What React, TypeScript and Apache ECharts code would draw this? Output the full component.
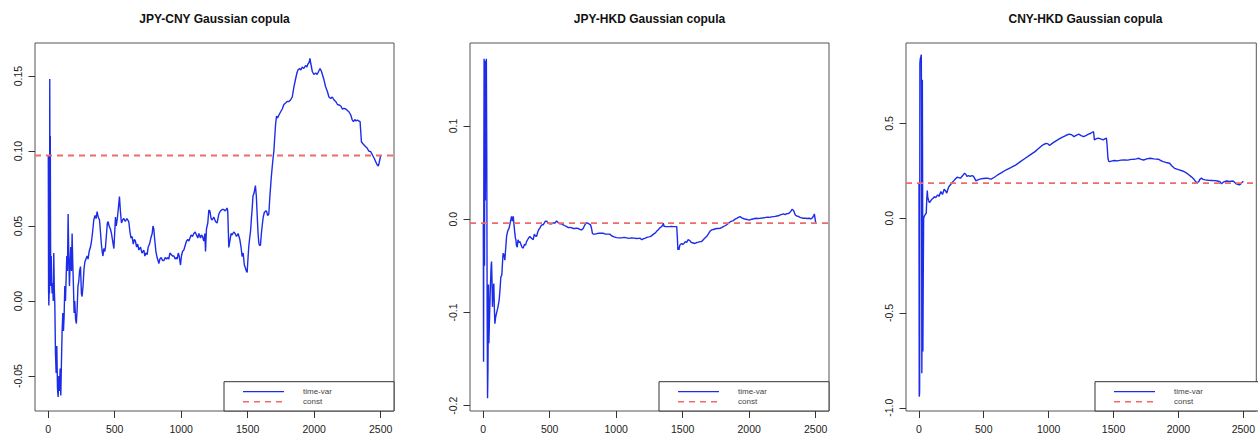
import React, { useEffect, useRef } from "react";
import * as echarts from "echarts";

// ---------- data ----------
const panelTitles = ["JPY-CNY Gaussian copula", "JPY-HKD Gaussian copula", "CNY-HKD Gaussian copula"];
const legendLabels = ["time-var", "const"];
const xTicks = [0, 500, 1000, 1500, 2000, 2500];
const xExtent = [-99, 2600];

const yTicksJpyCny = [-0.05, 0, 0.05, 0.1, 0.15];
const yTicksJpyHkd = [-0.2, -0.1, 0, 0.1];
const yTicksCnyHkd = [-1, -0.5, 0, 0.5];
const yExtentJpyCny = [-0.0733, 0.172];
const yExtentJpyHkd = [-0.2057, 0.189];
const yExtentCnyHkd = [-1.017, 0.924];
const yDecimals = [2, 1, 1];

const constJpyCny = 0.097;
const constJpyHkd = -0.0043;
const constCnyHkd = 0.185;

const jpyCny: [number, number][] = [
  [1, 0.097], [3, 0.008], [5, -0.003], [8, 0.01], [10, 0.005], [12, 0.148], [14, 0.06], [16, 0.11], [18, 0.04], [20, 0.01],
  [23, 0.03], [26, 0.012], [30, 0.005], [34, 0.012], [38, 0.0], [42, 0.032], [46, 0.008], [50, -0.002], [55, -0.035], [60, -0.048],
  [65, -0.03], [70, -0.058], [75, -0.064], [80, -0.05], [85, -0.06], [90, -0.045], [95, -0.063], [100, -0.04], [105, -0.02], [110, -0.008],
  [115, -0.02], [120, -0.01], [125, 0.01], [130, 0.0], [135, 0.015], [140, 0.03], [145, 0.02], [150, 0.058], [155, 0.03], [160, 0.01],
  [165, 0.025], [170, 0.036], [175, 0.02], [180, 0.045], [185, 0.025], [190, 0.01], [195, -0.008], [200, 0.0], [206, -0.012], [212, -0.015],
  [218, -0.005], [224, 0.01], [230, 0.013], [236, 0.02], [243, 0.023], [250, 0.005], [255, 0.003], [262, 0.01], [270, 0.022], [276, 0.026],
  [284, 0.028], [293, 0.03], [300, 0.028], [308, 0.033], [318, 0.036], [326, 0.04], [334, 0.046], [343, 0.054], [352, 0.057], [360, 0.055],
  [368, 0.0596], [376, 0.056], [386, 0.054], [394, 0.045], [400, 0.038], [406, 0.033], [412, 0.03], [418, 0.035], [425, 0.033], [431, 0.036],
  [438, 0.044], [445, 0.052], [451, 0.053], [458, 0.05], [468, 0.048], [476, 0.045], [485, 0.04], [494, 0.035], [500, 0.045], [506, 0.056],
  [512, 0.05], [520, 0.055], [528, 0.062], [536, 0.0696], [543, 0.06], [551, 0.052], [560, 0.054], [569, 0.055], [580, 0.053], [592, 0.055],
  [606, 0.053], [615, 0.046], [623, 0.042], [631, 0.043], [640, 0.038], [648, 0.041], [656, 0.04], [665, 0.036], [673, 0.038], [682, 0.034],
  [694, 0.036], [705, 0.032], [712, 0.033], [719, 0.034], [727, 0.03], [735, 0.032], [744, 0.031], [752, 0.036], [762, 0.038], [772, 0.042],
  [782, 0.045], [788, 0.05], [794, 0.048], [802, 0.04], [810, 0.033], [819, 0.029], [826, 0.027], [832, 0.025], [840, 0.028], [850, 0.029],
  [860, 0.027], [870, 0.027], [880, 0.029], [890, 0.028], [900, 0.029], [907, 0.028], [915, 0.032], [925, 0.031], [935, 0.03], [945, 0.03],
  [955, 0.028], [962, 0.029], [970, 0.028], [978, 0.032], [985, 0.03], [995, 0.024], [1002, 0.03], [1010, 0.033], [1020, 0.034], [1030, 0.037],
  [1040, 0.04], [1050, 0.041], [1058, 0.04], [1066, 0.042], [1075, 0.044], [1085, 0.043], [1095, 0.045], [1105, 0.046], [1115, 0.044], [1125, 0.042],
  [1133, 0.045], [1145, 0.042], [1152, 0.044], [1160, 0.043], [1170, 0.04], [1178, 0.045], [1183, 0.033], [1190, 0.048], [1200, 0.052], [1208, 0.0607],
  [1216, 0.06], [1225, 0.055], [1233, 0.054], [1245, 0.056], [1258, 0.053], [1270, 0.052], [1283, 0.058], [1295, 0.06], [1308, 0.061], [1320, 0.061],
  [1332, 0.06], [1345, 0.062], [1350, 0.06], [1358, 0.0357], [1366, 0.04], [1375, 0.045], [1383, 0.044], [1395, 0.046], [1405, 0.045], [1416, 0.043],
  [1428, 0.045], [1441, 0.041], [1450, 0.036], [1458, 0.0297], [1466, 0.032], [1475, 0.024], [1483, 0.022], [1490, 0.02], [1496, 0.019], [1502, 0.028],
  [1508, 0.0362], [1515, 0.042], [1522, 0.047], [1528, 0.055], [1533, 0.0607], [1540, 0.07], [1548, 0.072], [1558, 0.077], [1565, 0.07], [1571, 0.058],
  [1578, 0.045], [1584, 0.0384], [1590, 0.037], [1596, 0.0373], [1603, 0.045], [1610, 0.051], [1617, 0.056], [1625, 0.059], [1635, 0.06], [1642, 0.0599],
  [1650, 0.057], [1659, 0.058], [1667, 0.07], [1677, 0.082], [1685, 0.09], [1692, 0.0962], [1697, 0.1], [1702, 0.1073], [1710, 0.118], [1717, 0.1233],
  [1725, 0.122], [1735, 0.124], [1747, 0.126], [1760, 0.128], [1772, 0.131], [1785, 0.132], [1797, 0.133], [1810, 0.133], [1822, 0.134], [1835, 0.136],
  [1848, 0.1429], [1860, 0.148], [1870, 0.152], [1878, 0.154], [1890, 0.155], [1900, 0.154], [1910, 0.156], [1922, 0.155], [1935, 0.157], [1945, 0.156],
  [1953, 0.158], [1962, 0.159], [1968, 0.1618], [1975, 0.158], [1986, 0.153], [1998, 0.151], [2011, 0.152], [2022, 0.151], [2033, 0.153], [2044, 0.155],
  [2055, 0.153], [2065, 0.15], [2074, 0.1473], [2085, 0.143], [2098, 0.14], [2111, 0.136], [2124, 0.135], [2136, 0.136], [2149, 0.134], [2162, 0.133],
  [2175, 0.131], [2187, 0.1307], [2200, 0.13], [2212, 0.128], [2224, 0.1284], [2237, 0.128], [2250, 0.127], [2262, 0.126], [2275, 0.124], [2285, 0.121],
  [2295, 0.1196], [2305, 0.121], [2315, 0.12], [2325, 0.1207], [2335, 0.12], [2345, 0.1196], [2350, 0.113], [2355, 0.1062], [2365, 0.105], [2375, 0.104],
  [2387, 0.1029], [2398, 0.102], [2410, 0.1], [2425, 0.0996], [2440, 0.097], [2452, 0.095], [2462, 0.093], [2472, 0.091], [2482, 0.09], [2488, 0.092],
  [2495, 0.095], [2500, 0.097],
];

const jpyHkd: [number, number][] = [
  [1, -0.004], [3, -0.153], [5, 0.05], [7, 0.172], [10, -0.05], [13, 0.17], [16, 0.02], [20, 0.14], [24, 0.172], [27, 0.07],
  [30, -0.1], [33, -0.192], [36, -0.16], [40, -0.07], [43, -0.133], [47, -0.11], [50, -0.094], [55, -0.07], [60, -0.05], [63, -0.0455],
  [67, -0.07], [70, -0.094], [75, -0.075], [80, -0.069], [84, -0.095], [88, -0.112], [94, -0.105], [100, -0.101], [110, -0.095], [120, -0.087],
  [127, -0.075], [133, -0.062], [140, -0.06], [146, -0.045], [150, -0.0365], [156, -0.038], [163, -0.044], [170, -0.03], [176, -0.0185], [182, -0.014],
  [188, -0.0114], [194, -0.01], [200, -0.006], [206, -0.002], [213, 0.003], [220, -0.002], [226, 0.003], [230, -0.003], [233, -0.008], [238, -0.015],
  [242, -0.02], [246, -0.022], [250, -0.028], [256, -0.03], [262, -0.022], [270, -0.025], [276, -0.024], [284, -0.027], [292, -0.03], [301, -0.031],
  [310, -0.027], [318, -0.028], [326, -0.024], [334, -0.022], [342, -0.02], [351, -0.0185], [360, -0.02], [368, -0.021], [376, -0.022], [385, -0.016],
  [393, -0.018], [401, -0.0185], [410, -0.014], [418, -0.011], [426, -0.0096], [435, -0.007], [443, -0.006], [451, -0.006], [460, -0.004], [468, -0.002],
  [476, -0.002], [488, -0.004], [500, -0.005], [514, -0.005], [528, -0.004], [540, -0.004], [552, -0.002], [564, -0.0036], [578, -0.005], [590, -0.005],
  [602, -0.006], [615, -0.007], [628, -0.008], [640, -0.009], [652, -0.0089], [665, -0.009], [678, -0.01], [690, -0.01], [702, -0.0096], [715, -0.01],
  [728, -0.011], [740, -0.0114], [752, -0.01], [765, -0.006], [775, -0.004], [782, -0.004], [795, -0.005], [807, -0.006], [815, -0.01], [821, -0.015],
  [827, -0.016], [840, -0.016], [855, -0.0155], [870, -0.015], [885, -0.015], [902, -0.015], [918, -0.016], [935, -0.016], [952, -0.016], [968, -0.018],
  [985, -0.019], [1002, -0.0197], [1020, -0.02], [1040, -0.02], [1060, -0.0195], [1078, -0.02], [1095, -0.0205], [1115, -0.02], [1135, -0.0203], [1153, -0.0207],
  [1170, -0.0205], [1180, -0.0204], [1192, -0.022], [1203, -0.021], [1215, -0.0205], [1230, -0.0195], [1245, -0.019], [1254, -0.0186], [1265, -0.018], [1280, -0.016],
  [1292, -0.015], [1304, -0.013], [1318, -0.011], [1330, -0.009], [1342, -0.008], [1350, -0.006], [1354, -0.0043], [1360, -0.0075], [1372, -0.008], [1385, -0.0079],
  [1400, -0.008], [1415, -0.0078], [1430, -0.008], [1445, -0.008], [1455, -0.0079], [1460, -0.02], [1464, -0.033], [1468, -0.03], [1472, -0.033], [1478, -0.028],
  [1485, -0.027], [1491, -0.026], [1500, -0.027], [1510, -0.026], [1520, -0.024], [1530, -0.025], [1540, -0.022], [1554, -0.023], [1565, -0.025], [1579, -0.0255],
  [1592, -0.026], [1605, -0.025], [1618, -0.0245], [1630, -0.024], [1642, -0.024], [1655, -0.022], [1668, -0.02], [1680, -0.0186], [1692, -0.016], [1705, -0.013],
  [1717, -0.0115], [1730, -0.011], [1742, -0.0105], [1755, -0.01], [1768, -0.01], [1780, -0.0097], [1793, -0.009], [1805, -0.008], [1818, -0.007], [1830, -0.006],
  [1843, -0.0045], [1856, -0.003], [1868, -0.002], [1881, -0.0015], [1893, 0.0], [1906, 0.001], [1918, 0.002], [1931, 0.0028], [1945, 0.0015], [1960, 0.0005],
  [1975, 0.0], [1990, -0.0005], [2006, -0.0008], [2020, 0.0], [2035, 0.0005], [2050, 0.001], [2065, 0.0008], [2081, 0.001], [2095, 0.0012], [2110, 0.0015],
  [2125, 0.002], [2140, 0.0022], [2155, 0.002], [2168, 0.0025], [2181, 0.0028], [2195, 0.003], [2210, 0.0035], [2225, 0.004], [2240, 0.005], [2257, 0.0057],
  [2270, 0.005], [2282, 0.006], [2294, 0.006], [2305, 0.007], [2315, 0.009], [2322, 0.0107], [2327, 0.0107], [2335, 0.009], [2342, 0.006], [2350, 0.004],
  [2357, 0.0035], [2370, 0.003], [2382, 0.002], [2395, 0.0015], [2407, 0.001], [2420, 0.0012], [2435, 0.0008], [2450, 0.001], [2462, 0.0005], [2470, 0.0008],
  [2478, 0.002], [2485, 0.004], [2490, 0.0057], [2495, 0.001], [2500, -0.0036],
];

const cnyHkd: [number, number][] = [
  [1, 0.185], [3, -0.941], [5, -0.93], [6, -0.897], [8, 0.8175], [11, 0.84], [15, 0.85], [19, 0.862], [21, 0.5], [23, -0.818],
  [25, -0.5], [27, 0.73], [29, 0.2], [31, -0.703], [34, -0.3], [37, 0.0], [42, 0.01], [50, 0.02], [57, 0.026], [61, 0.1],
  [65, 0.146], [68, 0.114], [74, 0.095], [82, 0.082], [90, 0.09], [100, 0.1], [110, 0.105], [120, 0.114], [130, 0.108], [145, 0.123],
  [155, 0.115], [170, 0.14], [182, 0.125], [195, 0.153], [205, 0.145], [215, 0.132], [225, 0.155], [232, 0.167], [245, 0.178], [257, 0.188],
  [270, 0.198], [283, 0.208], [295, 0.216], [308, 0.214], [320, 0.211], [335, 0.222], [352, 0.237], [362, 0.232], [370, 0.22], [382, 0.224],
  [395, 0.22], [408, 0.224], [420, 0.222], [430, 0.21], [440, 0.197], [455, 0.202], [470, 0.206], [495, 0.209], [520, 0.211], [540, 0.209],
  [557, 0.206], [582, 0.216], [607, 0.228], [638, 0.24], [670, 0.254], [708, 0.267], [745, 0.28], [782, 0.298], [820, 0.316], [858, 0.334],
  [895, 0.351], [920, 0.366], [945, 0.381], [965, 0.39], [982, 0.395], [995, 0.392], [1007, 0.383], [1030, 0.396], [1057, 0.408], [1082, 0.418],
  [1107, 0.428], [1132, 0.436], [1157, 0.443], [1175, 0.441], [1195, 0.43], [1212, 0.437], [1232, 0.443], [1250, 0.436], [1270, 0.43], [1290, 0.437],
  [1307, 0.443], [1325, 0.448], [1345, 0.457], [1349, 0.44], [1352, 0.413], [1365, 0.418], [1382, 0.422], [1400, 0.418], [1420, 0.413], [1433, 0.418],
  [1445, 0.422], [1450, 0.39], [1457, 0.316], [1463, 0.3], [1470, 0.298], [1490, 0.302], [1507, 0.304], [1530, 0.302], [1557, 0.306], [1582, 0.307],
  [1610, 0.306], [1635, 0.31], [1657, 0.311], [1675, 0.313], [1695, 0.316], [1712, 0.31], [1732, 0.307], [1757, 0.313], [1782, 0.316], [1812, 0.313],
  [1845, 0.311], [1865, 0.304], [1882, 0.298], [1905, 0.294], [1932, 0.29], [1950, 0.275], [1970, 0.263], [2000, 0.256], [2032, 0.249], [2058, 0.24],
  [2082, 0.228], [2100, 0.218], [2120, 0.205], [2130, 0.195], [2140, 0.187], [2150, 0.19], [2157, 0.193], [2165, 0.205], [2177, 0.211], [2190, 0.205],
  [2207, 0.202], [2230, 0.2], [2257, 0.199], [2282, 0.198], [2300, 0.196], [2320, 0.193], [2332, 0.181], [2345, 0.19], [2370, 0.196], [2395, 0.194],
  [2420, 0.196], [2432, 0.19], [2445, 0.181], [2458, 0.178], [2470, 0.176], [2482, 0.182], [2495, 0.193], [2500, 0.19],
];

// ---------- layout / style ----------
const W = 1258;
const H = 435;
const gridLefts = [35, 470, 906];
const gridTop = 43;
const gridW = 359;
const gridH = 368;
const FONT = "'Liberation Sans', Arial, Helvetica, sans-serif";
const BLUE = "#1c2ce8";
const RED = "#ee6b6b";

export default function App() {
  const ref = useRef<HTMLDivElement>(null);

  useEffect(() => {
    if (!ref.current) return;
    const chart = echarts.init(ref.current, undefined, { renderer: "svg", width: W, height: H });

    const seriesData = [jpyCny, jpyHkd, cnyHkd];
    const consts = [constJpyCny, constJpyHkd, constCnyHkd];
    const yTicks = [yTicksJpyCny, yTicksJpyHkd, yTicksCnyHkd];
    const yExtents = [yExtentJpyCny, yExtentJpyHkd, yExtentCnyHkd];

    const grid = gridLefts.map((l) => ({
      left: l,
      top: gridTop,
      width: gridW,
      height: gridH,
      show: true,
      borderColor: "#555",
      borderWidth: 1,
      backgroundColor: "transparent",
      containLabel: false,
    }));

    const xAxis = gridLefts.map((_, i) => ({
      gridIndex: i,
      type: "value",
      position: "bottom",
      min: xExtent[0],
      max: xExtent[1],
      axisLine: { show: false, onZero: false },
      splitLine: { show: false },
      axisTick: { show: true, length: 7, customValues: xTicks, lineStyle: { color: "#333", width: 1 } },
      axisLabel: {
        customValues: xTicks,
        fontSize: 10.5,
        fontFamily: FONT,
        color: "#222",
        margin: 12,
        formatter: (v: number) => String(v),
      },
    }));

    const yAxis = gridLefts.map((_, i) => ({
      gridIndex: i,
      type: "value",
      position: "left",
      min: yExtents[i][0],
      max: yExtents[i][1],
      axisLine: { show: false, onZero: false },
      splitLine: { show: false },
      axisTick: { show: true, length: 6.5, customValues: yTicks[i], lineStyle: { color: "#333", width: 1 } },
      axisLabel: {
        customValues: yTicks[i],
        rotate: 90,
        fontSize: 10.5,
        fontFamily: FONT,
        color: "#222",
        margin: 12,
        formatter: (v: number) => v.toFixed(yDecimals[i]),
      },
    }));

    const series: any[] = [];
    seriesData.forEach((d, i) => {
      series.push({
        name: legendLabels[0],
        type: "line",
        xAxisIndex: i,
        yAxisIndex: i,
        data: d,
        showSymbol: false,
        symbol: "none",
        clip: true,
        lineStyle: { color: BLUE, width: 1.4 },
        z: 3,
      });
      series.push({
        name: legendLabels[1],
        type: "line",
        xAxisIndex: i,
        yAxisIndex: i,
        data: [
          [xExtent[0], consts[i]],
          [xExtent[1], consts[i]],
        ],
        showSymbol: false,
        symbol: "none",
        clip: true,
        lineStyle: { color: RED, width: 1.8, type: [6, 5] },
        z: 4,
      });
    });

    const graphic: any[] = [];
    gridLefts.forEach((l, i) => {
      graphic.push({
        type: "text",
        x: l + gridW / 2,
        y: 19,
        style: {
          text: panelTitles[i],
          font: `bold 12px ${FONT}`,
          fill: "#111",
          textAlign: "center",
          textVerticalAlign: "middle",
        },
      });
      const lx = l + 189;
      const ly = gridTop + gridH - 29.3;
      graphic.push({
        type: "rect",
        shape: { x: lx, y: ly, width: 170, height: 29.3 },
        style: { fill: "#fff", stroke: "#333", lineWidth: 1 },
        z: 10,
      });
      graphic.push({
        type: "line",
        shape: { x1: lx + 19, y1: ly + 10, x2: lx + 60, y2: ly + 10 },
        style: { stroke: BLUE, lineWidth: 1.3 },
        z: 11,
      });
      graphic.push({
        type: "line",
        shape: { x1: lx + 19, y1: ly + 20, x2: lx + 60, y2: ly + 20 },
        style: { stroke: RED, lineWidth: 1.6, lineDash: [6, 5] },
        z: 11,
      });
      legendLabels.forEach((lab, k) => {
        graphic.push({
          type: "text",
          x: lx + 79,
          y: ly + 10 + k * 10,
          style: {
            text: lab,
            font: `8px ${FONT}`,
            fill: "#444",
            textAlign: "left",
            textVerticalAlign: "middle",
          },
          z: 11,
        });
      });
    });

    chart.setOption({
      animation: false,
      backgroundColor: "#fff",
      grid,
      xAxis,
      yAxis,
      series,
      graphic,
    });

    return () => chart.dispose();
  }, []);

  return (
    <div
      ref={ref}
      style={{ position: "absolute", left: 0, top: 0, width: W, height: H, background: "#fff" }}
    />
  );
}
